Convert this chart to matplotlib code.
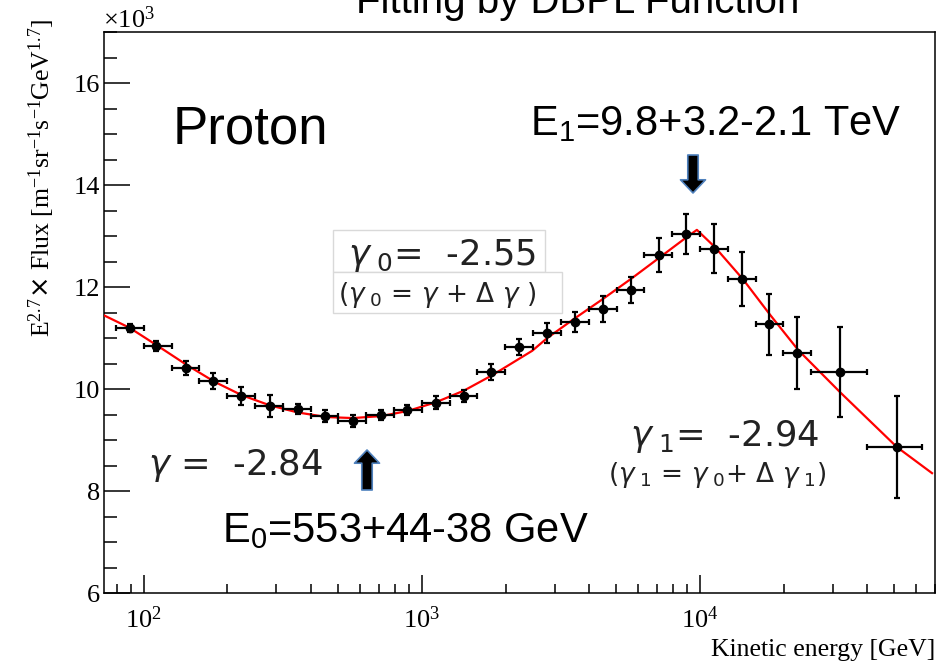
import numpy as np
import matplotlib
matplotlib.use("Agg")
import matplotlib.pyplot as plt
from matplotlib.patches import Rectangle
from matplotlib.ticker import LogLocator, MultipleLocator, FuncFormatter, NullFormatter

# Measured points: kinetic energy [GeV] and E^2.7 x flux [x10^3]
energy = [89, 111, 142, 177, 223, 284, 358, 448, 565, 713, 884, 1124, 1419, 1775,
          2239, 2825, 3565, 4464, 5637, 7112, 8898, 11240, 14190, 17750, 22390, 32000, 51100]
flux = [11.20, 10.84, 10.41, 10.16, 9.86, 9.67, 9.61, 9.47, 9.37, 9.49, 9.59, 9.73, 9.86, 10.33,
        10.82, 11.10, 11.31, 11.57, 11.94, 12.63, 13.04, 12.75, 12.16, 11.27, 10.71, 10.33, 8.86]
flux_err = [0.08, 0.10, 0.13, 0.16, 0.18, 0.21, 0.10, 0.12, 0.12, 0.10, 0.10, 0.13, 0.12, 0.16,
            0.16, 0.20, 0.20, 0.26, 0.26, 0.33, 0.39, 0.48, 0.53, 0.60, 0.71, 0.88, 1.00]
bin_edges = [79.4, 100, 126, 158, 200, 251, 316, 398, 501, 631, 794, 1000, 1259, 1585, 1995,
             2512, 3162, 3981, 5012, 6310, 7943, 10000, 12589, 15849, 19953, 25119, 39811, 63096]

# DBPL fit curve
fit_energy = [71, 89, 112, 143, 180, 225, 284, 358, 455, 565, 718, 891, 1124, 1419, 1791,
              2495, 2825, 3537, 4464, 5686, 7047, 8972, 9750, 11330, 14290, 17900, 22590,
              32000, 51100, 68300]
fit_flux = [11.46, 11.20, 10.85, 10.47, 10.14, 9.88, 9.68, 9.54, 9.45, 9.43, 9.47, 9.57, 9.74,
            9.97, 10.27, 10.75, 11.00, 11.38, 11.76, 12.17, 12.55, 12.98, 13.12, 12.78, 12.15,
            11.45, 10.76, 9.93, 8.86, 8.35]

W, H = 953, 664


def fx(x):
    return x / W


def fy(y):
    return 1 - y / H


plt.rcParams["font.family"] = "Liberation Serif"

fig = plt.figure(figsize=(W / 100, H / 100), dpi=100)
ax = fig.add_axes([fx(104), fy(593), (935 - 104) / W, (593 - 32) / H])

# errors from bin edges
xlo = [e - bin_edges[i] for i, e in enumerate(energy)]
xhi = [bin_edges[i + 1] - e for i, e in enumerate(energy)]

ax.plot(fit_energy, fit_flux, color="#ff0000", lw=1.6, zorder=3)
ax.errorbar(energy, flux, xerr=[xlo, xhi], yerr=flux_err, fmt="o", color="black",
            ms=6, elinewidth=1.6, capsize=2.5, capthick=1.6, zorder=4)

ax.set_xscale("log")
ax.set_xlim(72, 70000)
ax.set_ylim(6, 17)

ax.xaxis.set_major_locator(LogLocator(base=10, numticks=10))
ax.xaxis.set_minor_locator(LogLocator(base=10, subs=range(2, 10), numticks=100))
ax.xaxis.set_major_formatter(FuncFormatter(
    lambda v, p: r"$\mathregular{10^{%d}}$" % round(np.log10(v))))
ax.xaxis.set_minor_formatter(NullFormatter())
ax.yaxis.set_major_locator(MultipleLocator(2))
ax.yaxis.set_minor_locator(MultipleLocator(0.5))

ax.tick_params(axis="x", which="major", direction="in", length=13, width=1.1,
               labelsize=19, pad=10, top=False)
ax.tick_params(axis="x", which="minor", direction="in", length=6.5, width=1.1, top=False)
ax.tick_params(axis="y", which="major", direction="in", length=18.7, width=1.1,
               labelsize=19, pad=3, right=False)
ax.tick_params(axis="y", which="minor", direction="in", length=9.4, width=1.1, right=False)
for s in ax.spines.values():
    s.set_linewidth(1.1)

# axis titles
fig.text(fx(935), fy(656), "Kinetic energy [GeV]", ha="right", va="baseline", size=18.5)
fig.text(fx(42), fy(18),
         r"$\mathregular{E^{2.7}}$$\times$ Flux [$\mathregular{m^{-1}sr^{-1}s^{-1}GeV^{1.7}}$]",
         rotation=90, ha="center", va="top", size=18.5)
fig.text(fx(103), fy(28), r"$\mathregular{\times10^{3}}$", ha="left", va="baseline", size=19)

# slide title (cut at the top, as in the slide)
fig.text(fx(578), fy(13), "Fitting by DBPL Function", ha="center", va="baseline",
         family="Liberation Sans", size=29)

sans = "Liberation Sans"
fig.text(fx(173), fy(143), "Proton", family=sans, size=38, va="baseline")
fig.text(fx(530), fy(135), r"E$_{\mathregular{1}}$=9.8+3.2-2.1 TeV", family=sans, size=30,
         va="baseline")
fig.text(fx(222), fy(542), r"E$_{\mathregular{0}}$=553+44-38 GeV", family=sans, size=30,
         va="baseline")

# gamma labels
gf = "DejaVu Sans"
gcol = "#222222"
fig.patches.append(Rectangle((fx(333), fy(272)), (545 - 333) / W, 42 / H,
                             transform=fig.transFigure, fc="white", ec="#d9d9d9", lw=1))
fig.patches.append(Rectangle((fx(333), fy(313)), (562 - 333) / W, 41 / H,
                             transform=fig.transFigure, fc="white", ec="#d9d9d9", lw=1))
fig.text(fx(348), fy(265), r"$\gamma_{\ 0}$=  -2.55", family=gf, size=25.5, color=gcol,
         va="baseline")
fig.text(fx(338), fy(302), r"($\gamma_{\ 0}$ = $\gamma$ + $\Delta$ $\gamma$ )", family=gf,
         size=19, color=gcol, va="baseline")

fig.text(fx(148), fy(475), r"$\gamma$ =  -2.84", family=gf, size=25.5, color=gcol,
         va="baseline")
fig.text(fx(630), fy(446), r"$\gamma_{\ 1}$=  -2.94", family=gf, size=25.5, color=gcol,
         va="baseline", bbox=dict(boxstyle="square,pad=0.15", fc="white", ec="none"))
fig.text(fx(608), fy(482), r"($\gamma_{\ 1}$ = $\gamma_{\ 0}$+ $\Delta$ $\gamma_{\ 1}$)",
         family=gf, size=19, color=gcol, va="baseline")

# break arrows
arrow = dict(arrowstyle="simple,head_length=0.95,head_width=1.8,tail_width=0.75",
             fc="black", ec="#4f81bd", lw=1.2, mutation_scale=10, shrinkA=0, shrinkB=0)
ax.annotate("", xy=(693, H - 193), xytext=(693, H - 155), xycoords="figure pixels",
            textcoords="figure pixels", arrowprops=arrow)
ax.annotate("", xy=(367, H - 450), xytext=(367, H - 490), xycoords="figure pixels",
            textcoords="figure pixels", arrowprops=arrow)

fig.savefig("out.png", dpi=100)
